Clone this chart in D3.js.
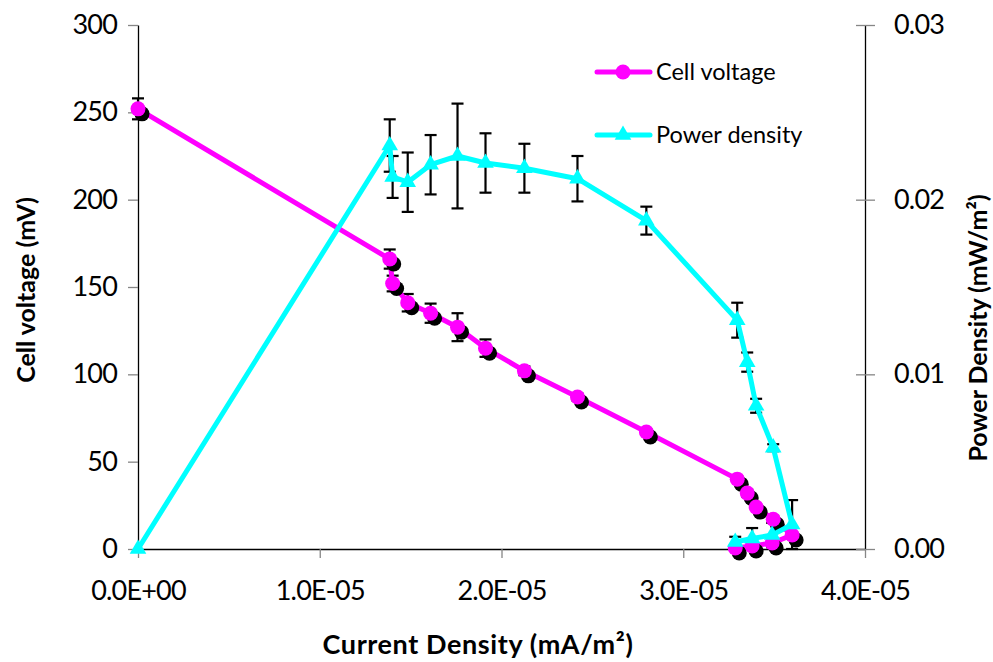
<!DOCTYPE html>
<html>
<head>
<meta charset="utf-8">
<script src="https://cdn.jsdelivr.net/npm/d3@7"></script>
<style>
  html, body { margin: 0; padding: 0; background: #fff; }
  svg { display: block; font-family: Lato, "Open Sans", sans-serif; }
</style>
</head>
<body>
<svg id="chart" width="993" height="662"></svg>
<script>
// Current density (mA/m²) for each measurement step
const currentDensity = [0, 1.385e-5, 1.401e-5, 1.484e-5, 1.610e-5, 1.758e-5, 1.912e-5, 2.126e-5,
  2.418e-5, 2.797e-5, 3.297e-5, 3.352e-5, 3.401e-5, 3.495e-5, 3.599e-5, 3.489e-5, 3.379e-5, 3.286e-5];
// Cell voltage (mV) and its error
const cellVoltage = [252, 166, 152, 141, 135, 127, 115, 102, 87, 67, 40, 32, 24, 17, 8, 3.4, 1.7, 0.6];
const voltageErr = [6, 5.5, 4.5, 5, 5.5, 8, 5, 2.5, 2, 1.5, 1.5, 2, 1.5, 2, 1.5, 1, 1.5, 1];
// Power density (mW/m²) and its error
const powerDensity = [0, 0.0231, 0.0213, 0.0210, 0.0220, 0.0225, 0.0221, 0.0218, 0.0212, 0.0188,
  0.0131, 0.0107, 0.0082, 0.0058, 0.0014, 0.0008, 0.0006, 0.0004];
const powerErr = [0, 0.0015, 0.0012, 0.0017, 0.0017, 0.003, 0.0017, 0.0014, 0.0013, 0.0008,
  0.0010, 0.00055, 0.0004, 0.0002, 0.0014, 0.0007, 0.0006, 0.0003];

// Axis ticks and labels
const xTicks = [0, 1e-5, 2e-5, 3e-5, 4e-5];
const xTickLabels = ["0.0E+00", "1.0E-05", "2.0E-05", "3.0E-05", "4.0E-05"];
const yLeftTicks = [0, 50, 100, 150, 200, 250, 300];
const yRightTicks = [0, 0.01, 0.02, 0.03];
const yRightTickLabels = ["0.00", "0.01", "0.02", "0.03"];

const seriesNames = ["Cell voltage", "Power density"];

const colV = "#ff00ff";
const colP = "#00ffff";
const tickGrey = "#868686";

const svg = d3.select("#chart");

const x = d3.scaleLinear().domain([0, 4e-5]).range([138, 865]);
const yL = d3.scaleLinear().domain([0, 300]).range([549, 25]);
const yR = d3.scaleLinear().domain([0, 0.03]).range([549, 25]);

const pts = currentDensity.map((c, i) => ({
  c, v: cellVoltage[i], ve: voltageErr[i], p: powerDensity[i], pe: powerErr[i]
}));

// ---- axes ----
function styleAxis(g) {
  g.select(".domain").attr("stroke", "#000").attr("stroke-width", 1.3);
  g.selectAll(".tick line").attr("stroke", tickGrey).attr("stroke-width", 1.3);
  g.selectAll(".tick text").attr("fill", "#000").attr("font-size", 27)
    .attr("letter-spacing", "-0.8px")
    .attr("font-family", "Lato, 'Open Sans', sans-serif");
}

const xAxis = d3.axisBottom(x).tickValues(xTicks)
  .tickFormat((d, i) => xTickLabels[i]).tickSizeInner(9).tickSizeOuter(0).tickPadding(23);
svg.append("g").attr("transform", "translate(0,549)").call(xAxis).call(styleAxis);

const yLeftAxis = d3.axisLeft(yL).tickValues(yLeftTicks)
  .tickFormat(d3.format("d")).tickSizeInner(10).tickSizeOuter(0).tickPadding(11);
svg.append("g").attr("transform", "translate(138,0)").call(yLeftAxis).call(styleAxis);

const yRightAxis = d3.axisRight(yR).tickValues(yRightTicks)
  .tickFormat((d, i) => yRightTickLabels[i]).tickSizeInner(10).tickSizeOuter(0).tickPadding(19);
const gR = svg.append("g").attr("transform", "translate(865,0)").call(yRightAxis).call(styleAxis);
gR.selectAll(".tick line").attr("x1", -9);

// ---- axis titles ----
svg.append("text")
  .attr("x", 478).attr("y", 654).attr("text-anchor", "middle")
  .attr("font-size", 27).attr("font-weight", "bold").attr("letter-spacing", "0.6px")
  .text("Current Density (mA/m²)");

svg.append("text")
  .attr("transform", "translate(35,290) rotate(-90)")
  .attr("text-anchor", "middle")
  .attr("font-size", 25).attr("font-weight", "bold")
  .text("Cell voltage (mV)");

svg.append("text")
  .attr("transform", "translate(987,328) rotate(-90)")
  .attr("text-anchor", "middle")
  .attr("font-size", 25).attr("font-weight", "bold")
  .text("Power Density (mW/m²)");

// ---- error bars ----
function errorBars(g, yScale, valKey, errKey) {
  const cap = 6;
  const eb = g.selectAll("g.eb").data(pts.filter(d => d[errKey] > 0)).join("g").attr("class", "eb");
  eb.append("line")
    .attr("x1", d => x(d.c)).attr("x2", d => x(d.c))
    .attr("y1", d => yScale(d[valKey] + d[errKey])).attr("y2", d => yScale(d[valKey] - d[errKey]));
  eb.append("line")
    .attr("x1", d => x(d.c) - cap).attr("x2", d => x(d.c) + cap)
    .attr("y1", d => yScale(d[valKey] + d[errKey])).attr("y2", d => yScale(d[valKey] + d[errKey]));
  eb.append("line")
    .attr("x1", d => x(d.c) - cap).attr("x2", d => x(d.c) + cap)
    .attr("y1", d => yScale(d[valKey] - d[errKey])).attr("y2", d => yScale(d[valKey] - d[errKey]));
  g.selectAll("line").attr("stroke", "#000").attr("stroke-width", 2.2);
}

errorBars(svg.append("g"), yL, "v", "ve");
errorBars(svg.append("g"), yR, "p", "pe");

// ---- cell voltage series ----
const lineV = d3.line().x(d => x(d.c)).y(d => yL(d.v));
svg.append("path").datum(pts).attr("d", lineV)
  .attr("fill", "none").attr("stroke", colV).attr("stroke-width", 5).attr("stroke-linejoin", "round");

// marker shadows
svg.append("g").selectAll("circle").data(pts).join("circle")
  .attr("cx", d => x(d.c) + 4).attr("cy", d => yL(d.v) + 5).attr("r", 7.5).attr("fill", "#000");
svg.append("g").selectAll("circle").data(pts).join("circle")
  .attr("cx", d => x(d.c)).attr("cy", d => yL(d.v)).attr("r", 7.5).attr("fill", colV);

// ---- power density series ----
const lineP = d3.line().x(d => x(d.c)).y(d => yR(d.p));
svg.append("path").datum(pts).attr("d", lineP)
  .attr("fill", "none").attr("stroke", colP).attr("stroke-width", 5).attr("stroke-linejoin", "round");

const tri = d3.symbol().type(d3.symbolTriangle).size(120);
svg.append("g").selectAll("path").data(pts).join("path")
  .attr("d", tri)
  .attr("transform", d => `translate(${x(d.c)},${yR(d.p)})`)
  .attr("fill", colP);

// ---- legend ----
const legend = svg.append("g");
const legendRows = [
  { name: seriesNames[0], color: colV, y: 72, shape: "circle" },
  { name: seriesNames[1], color: colP, y: 135, shape: "triangle" }
];
legendRows.forEach(r => {
  legend.append("line").attr("x1", 597).attr("x2", 650).attr("y1", r.y).attr("y2", r.y)
    .attr("stroke", r.color).attr("stroke-width", 5).attr("stroke-linecap", "round");
  if (r.shape === "circle") {
    legend.append("circle").attr("cx", 623).attr("cy", r.y).attr("r", 7.5).attr("fill", r.color);
  } else {
    legend.append("path").attr("d", tri).attr("transform", `translate(623,${r.y})`).attr("fill", r.color);
  }
  legend.append("text").attr("x", 656).attr("y", r.y).attr("dy", "0.35em")
    .attr("font-size", 23.5).text(r.name);
});
</script>
</body>
</html>
